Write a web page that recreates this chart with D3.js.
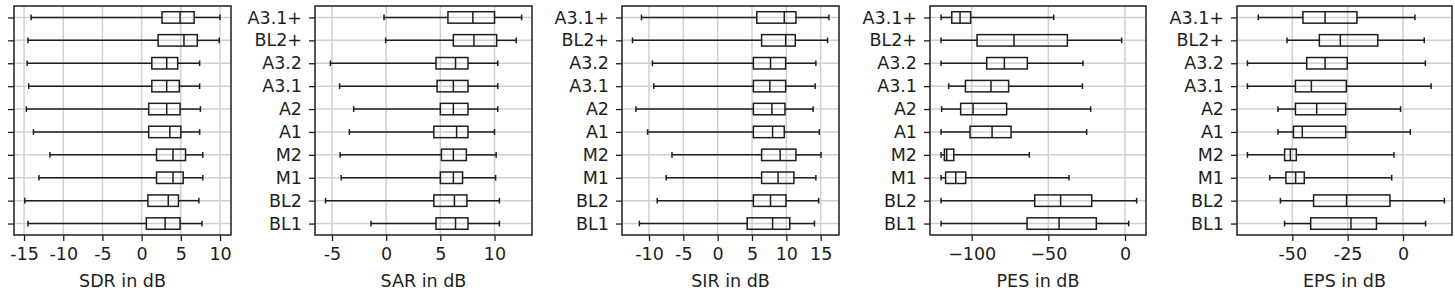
<!DOCTYPE html>
<html>
<head>
<meta charset="utf-8">
<script src="https://cdn.jsdelivr.net/npm/d3@7.9.0/dist/d3.min.js"></script>
<style>
  html, body { margin: 0; padding: 0; background: #fff; }
  svg { display: block; font-family: "DejaVu Sans", sans-serif; }
</style>
</head>
<body>
<svg id="chart" width="1455" height="290"></svg>
<script>
// categories, top row first
const methods = ["A3.1+", "BL2+", "A3.2", "A3.1", "A2", "A1", "M2", "M1", "BL2", "BL1"];

// each row: [lower whisker, Q1, median, Q3, upper whisker]
const sdr = [
  [-14.1, 2.6, 4.9, 6.7, 10.0],
  [-14.5, 2.1, 5.4, 7.1, 9.9],
  [-14.6, 1.3, 3.2, 4.6, 7.4],
  [-14.4, 1.3, 3.2, 4.8, 7.4],
  [-14.7, 0.9, 3.2, 4.9, 7.5],
  [-13.8, 0.9, 3.6, 5.0, 7.4],
  [-11.7, 1.9, 4.0, 5.6, 7.8],
  [-13.1, 1.9, 4.0, 5.3, 7.8],
  [-14.9, 0.8, 3.4, 4.7, 7.3],
  [-14.5, 0.6, 3.0, 4.9, 7.7]
];
const sar = [
  [-0.2, 5.7, 8.0, 10.0, 12.5],
  [-0.05, 6.2, 8.1, 10.2, 12.0],
  [-5.15, 4.6, 6.4, 7.55, 10.3],
  [-4.3, 4.7, 6.2, 7.55, 10.3],
  [-3.0, 5.0, 6.2, 7.55, 10.3],
  [-3.4, 4.4, 6.5, 7.55, 10.0],
  [-4.25, 5.1, 6.2, 7.4, 10.15],
  [-4.15, 5.0, 6.2, 7.05, 10.1],
  [-5.6, 4.4, 6.3, 7.45, 10.45],
  [-1.4, 4.6, 6.4, 7.55, 10.45]
];
const sir = [
  [-11.1, 5.7, 9.7, 11.4, 16.2],
  [-12.4, 6.4, 9.9, 11.3, 16.0],
  [-9.5, 5.2, 7.7, 9.9, 14.3],
  [-9.3, 5.2, 7.6, 9.9, 14.2],
  [-11.9, 5.2, 7.9, 9.8, 13.9],
  [-10.2, 5.2, 8.0, 9.7, 14.8],
  [-6.65, 6.4, 9.1, 11.4, 15.05],
  [-7.5, 6.4, 8.8, 11.1, 14.3],
  [-8.8, 5.2, 7.7, 9.95, 14.7],
  [-11.4, 4.3, 8.0, 10.5, 14.1]
];
const pes = [
  [-120, -113, -107.6, -100.7, -46.5],
  [-120, -96.5, -72.4, -37.6, -2.2],
  [-120, -90.2, -78.7, -63.7, -27.4],
  [-115, -104.1, -87.4, -75.9, -27.8],
  [-119.6, -107.2, -99.1, -77.2, -22.4],
  [-120, -101.1, -86.7, -74.3, -25],
  [-120, -117.8, -116.3, -111.7, -62.4],
  [-120, -117, -110.4, -103.9, -36.5],
  [-120, -58.9, -42, -21.7, 7.6],
  [-120, -63.9, -43, -18.7, 2.4]
];
const eps = [
  [-65.4, -45.2, -35.2, -20.8, 5.4],
  [-52.4, -37.8, -28.3, -11.4, 9.6],
  [-70.3, -43.5, -35.2, -25.2, 10.1],
  [-70.3, -48.6, -41.4, -25.6, 12.7],
  [-56.5, -48.6, -39, -25.9, -1.1],
  [-56.5, -49.5, -45.5, -25.9, 3.3],
  [-70.3, -53.5, -50.9, -48.2, -4.1],
  [-60.2, -52.9, -48.5, -44.6, -5.1],
  [-55.4, -40.4, -25.5, -5.9, 18.7],
  [-53.5, -41.7, -23.5, -12, 10.2]
];

// tick values and labels per panel
const sdrTicks = [-15, -10, -5, 0, 5, 10];
const sarTicks = [-5, 0, 5, 10];
const sirTicks = [-10, -5, 0, 5, 10, 15];
const pesTicks = [-100, -50, 0];
const epsTicks = [-50, -25, 0];

const hyphen = d => String(d);
const uminus = d => String(d).replace("-", "\u2212");

const panels = [
  { title: "SDR in dB", data: sdr, ticks: sdrTicks, fmt: hyphen, left: 14,  right: 231,  domain: [-16.28, 11.40] },
  { title: "SAR in dB", data: sar, ticks: sarTicks, fmt: hyphen, left: 315, right: 532,  domain: [-6.57, 13.46] },
  { title: "SIR in dB", data: sir, ticks: sirTicks, fmt: hyphen, left: 622, right: 839,  domain: [-13.93, 17.67] },
  { title: "PES in dB", data: pes, ticks: pesTicks, fmt: uminus, left: 930, right: 1146, domain: [-127.2, 13.7] },
  { title: "EPS in dB", data: eps, ticks: epsTicks, fmt: hyphen, left: 1237, right: 1452, domain: [-75.0, 22.14] }
];

const svg = d3.select("#chart");
const plotTop = 6, plotBottom = 235;
const ink = "#1e1e1e";
const gridColor = "#d0d0d0";
const fontSize = "17.5px";
const lw = 1.5;

// rows at positions 10..1, matplotlib style
const y = d3.scaleLinear().domain([0.5, 10.5]).range([plotBottom, plotTop]);
const pos = i => methods.length - i;
const boxH = y(0) - y(0.5);
const capH = boxH / 2;

panels.forEach(p => {
  const x = d3.scaleLinear().domain(p.domain).range([p.left, p.right]);
  const g = svg.append("g");

  // grid
  g.selectAll(".vg").data(p.ticks).enter().append("line")
    .attr("x1", d => x(d)).attr("x2", d => x(d))
    .attr("y1", plotTop).attr("y2", plotBottom)
    .attr("stroke", gridColor).attr("stroke-width", 1.5);
  g.selectAll(".hg").data(methods).enter().append("line")
    .attr("x1", p.left).attr("x2", p.right)
    .attr("y1", (d, i) => y(pos(i))).attr("y2", (d, i) => y(pos(i)))
    .attr("stroke", gridColor).attr("stroke-width", 1.5);

  // boxes
  const rows = g.selectAll(".row").data(p.data).enter().append("g")
    .attr("transform", (d, i) => `translate(0,${y(pos(i))})`);

  rows.append("line") // lower whisker
    .attr("x1", d => x(d[0])).attr("x2", d => x(d[1]))
    .attr("stroke", ink).attr("stroke-width", lw);
  rows.append("line") // upper whisker
    .attr("x1", d => x(d[3])).attr("x2", d => x(d[4]))
    .attr("stroke", ink).attr("stroke-width", lw);
  rows.append("line") // caps
    .attr("x1", d => x(d[0])).attr("x2", d => x(d[0]))
    .attr("y1", -capH / 2).attr("y2", capH / 2)
    .attr("stroke", ink).attr("stroke-width", lw);
  rows.append("line")
    .attr("x1", d => x(d[4])).attr("x2", d => x(d[4]))
    .attr("y1", -capH / 2).attr("y2", capH / 2)
    .attr("stroke", ink).attr("stroke-width", lw);
  rows.append("rect")
    .attr("x", d => x(d[1])).attr("width", d => x(d[3]) - x(d[1]))
    .attr("y", -boxH / 2).attr("height", boxH)
    .attr("fill", "none").attr("stroke", ink).attr("stroke-width", lw);
  rows.append("line") // median
    .attr("x1", d => x(d[2])).attr("x2", d => x(d[2]))
    .attr("y1", -boxH / 2).attr("y2", boxH / 2)
    .attr("stroke", ink).attr("stroke-width", lw);

  // frame
  g.append("rect")
    .attr("x", p.left).attr("y", plotTop)
    .attr("width", p.right - p.left).attr("height", plotBottom - plotTop)
    .attr("fill", "none").attr("stroke", ink).attr("stroke-width", lw);

  // x axis
  const xa = g.append("g")
    .attr("transform", `translate(0,${plotBottom})`)
    .call(d3.axisBottom(x).tickValues(p.ticks).tickFormat(p.fmt).tickSize(6).tickPadding(7));
  xa.select(".domain").remove();
  xa.selectAll(".tick line").attr("stroke", ink).attr("stroke-width", 1.3);
  xa.selectAll(".tick text").attr("fill", ink)
    .style("font-size", fontSize).style("font-family", "DejaVu Sans");

  // y axis
  const ya = g.append("g")
    .attr("transform", `translate(${p.left},0)`)
    .call(d3.axisLeft(y).tickValues(methods.map((m, i) => pos(i)))
      .tickFormat(v => methods[methods.length - v]).tickSize(6).tickPadding(7));
  ya.select(".domain").remove();
  ya.selectAll(".tick line").attr("stroke", ink).attr("stroke-width", 1.3);
  ya.selectAll(".tick text").attr("fill", ink)
    .style("font-size", fontSize).style("font-family", "DejaVu Sans");

  // x label
  g.append("text")
    .attr("x", (p.left + p.right) / 2).attr("y", 287)
    .attr("text-anchor", "middle").attr("fill", ink)
    .style("font-size", fontSize)
    .text(p.title);
});
</script>
</body>
</html>
